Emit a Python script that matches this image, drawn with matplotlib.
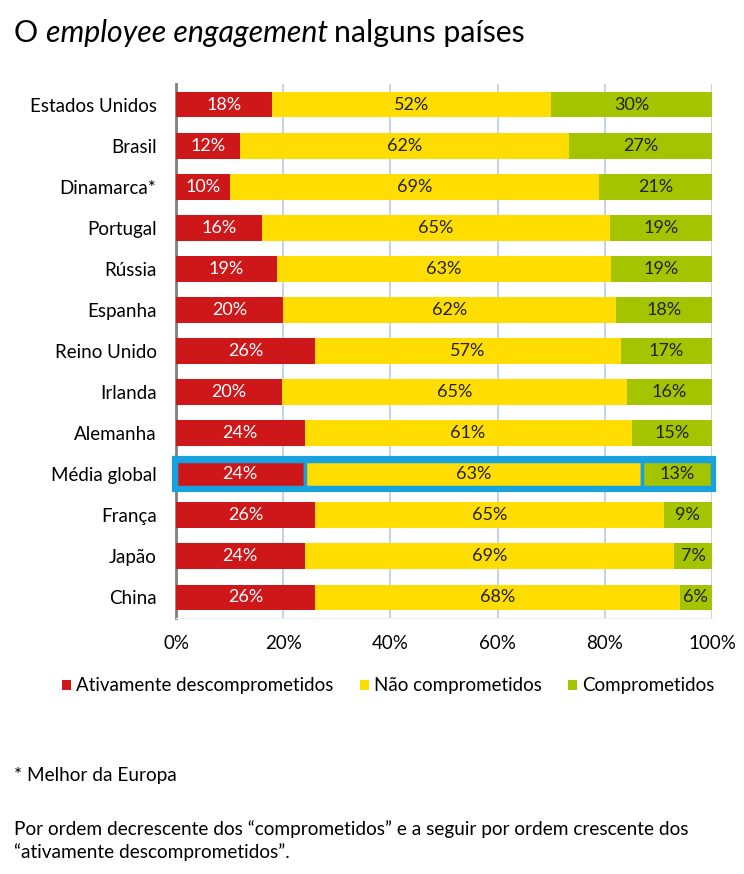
import matplotlib.pyplot as plt
import numpy as np
from matplotlib.patches import Rectangle

plt.rcParams['font.family'] = ['Lato', 'DejaVu Sans']

paises = ["Estados Unidos", "Brasil", "Dinamarca*", "Portugal", "Rússia", "Espanha",
          "Reino Unido", "Irlanda", "Alemanha", "Média global", "França", "Japão", "China"]
ativamente = [18, 12, 10, 16, 19, 20, 26, 20, 24, 24, 26, 24, 26]
nao_comp = [52, 62, 69, 65, 63, 62, 57, 65, 61, 63, 65, 69, 68]
comprometidos = [30, 27, 21, 19, 19, 18, 17, 16, 15, 13, 9, 7, 6]
series_nomes = ["Ativamente descomprometidos", "Não comprometidos", "Comprometidos"]
cores = ["#CD1719", "#FFDD00", "#A5C400"]
cores_texto = ["white", "#222222", "#222222"]
destaque = "Média global"
azul = "#17A2DF"

dados = np.array([ativamente, nao_comp, comprometidos], dtype=float)
norm = dados / dados.sum(axis=0) * 100

fig = plt.figure(figsize=(7.44, 8.74), dpi=100)
ax = fig.add_axes([176 / 744, 1 - 618 / 874, 536 / 744, (618 - 84) / 874])

y = np.arange(len(paises))
left = np.zeros(len(paises))
for i in range(3):
    bars = ax.barh(y, norm[i], left=left, height=0.63, color=cores[i],
                   label=series_nomes[i], zorder=3)
    for j, b in enumerate(bars):
        if paises[j] == destaque:
            b.set_edgecolor(azul)
            b.set_linewidth(2.5)
        ax.text(left[j] + norm[i][j] / 2, j, f"{int(dados[i][j])}%", ha='center',
                va='center', fontsize=13, color=cores_texto[i], zorder=5)
    left += norm[i]

k = paises.index(destaque)
ax.add_patch(Rectangle((-0.4, k - 0.39), 100.8, 0.78, fill=False, edgecolor=azul,
                       linewidth=3, zorder=6, clip_on=False))

ax.set_xlim(0, 100)
ax.set_ylim(len(paises) - 0.5, -0.5)
ax.set_yticks(y)
ax.set_yticklabels(paises, fontsize=13.5)
ax.set_xticks([0, 20, 40, 60, 80, 100])
ax.set_xticklabels(["0%", "20%", "40%", "60%", "80%", "100%"], fontsize=13.5)
ax.tick_params(length=0, pad=14)
ax.tick_params(axis='x', pad=12)
ax.grid(axis='x', color='#B8CCE4', linewidth=1.2, zorder=0)
for s in ['top', 'right']:
    ax.spines[s].set_visible(False)
ax.spines['left'].set_color('#7F7F7F')
ax.spines['left'].set_linewidth(2)
ax.spines['bottom'].set_color('#EEEEEE')

fig.legend(loc='center', bbox_to_anchor=(388 / 744, 1 - 686 / 874), ncol=3, frameon=False,
           fontsize=13.5, handlelength=0.5, handleheight=0.5, handletextpad=0.25,
           columnspacing=1.4)

# title built of three pieces so the middle can be italic
ty = 1 - 33 / 874
t1 = fig.text(14 / 744, ty, "O ", fontsize=21.8, va='center')
fig.canvas.draw()
r = fig.canvas.get_renderer()
bb = t1.get_window_extent(r)
t2 = fig.text(bb.x1 / 744, ty, "employee engagement", fontsize=21.8,
              va='center', style='italic')
bb2 = t2.get_window_extent(r)
fig.text(bb2.x1 / 744 + 6 / 744, ty, "nalguns países", fontsize=21.8, va='center')

fig.text(14 / 744, 1 - 776 / 874, "* Melhor da Europa", fontsize=13.7, va='center')
fig.text(14 / 744, 1 - 829 / 874, "Por ordem decrescente dos “comprometidos” e a seguir por ordem crescente dos",
         fontsize=13.7, va='center')
fig.text(14 / 744, 1 - 852 / 874, "“ativamente descomprometidos”.", fontsize=13.7, va='center')

fig.savefig("out.png", dpi=100)
